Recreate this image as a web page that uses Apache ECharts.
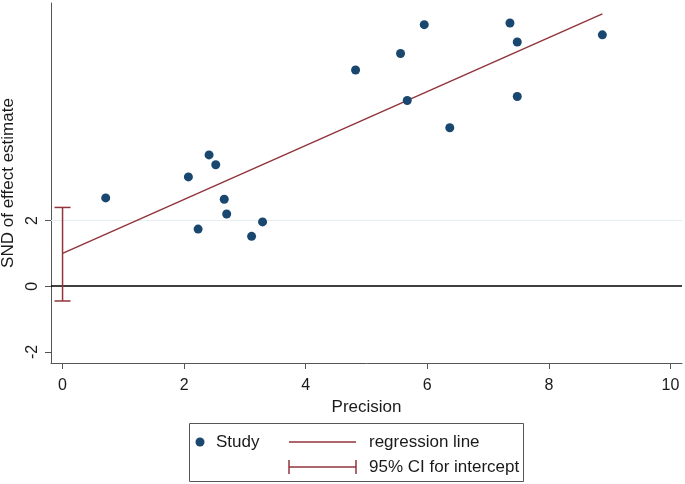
<!DOCTYPE html>
<html>
<head>
<meta charset="utf-8">
<script src="https://cdn.jsdelivr.net/npm/echarts@6/dist/echarts.min.js"></script>
<style>html,body{margin:0;padding:0;background:#fff}#c{width:685px;height:484px}</style>
</head>
<body>
<div id="c"></div>
<script>
// Study data: precision (x) and standard normal deviate (y)
const precision = [0.71, 2.07, 2.23, 2.41, 2.52, 2.66, 2.70, 3.11, 3.29, 4.82, 5.56, 5.67, 5.95, 6.37, 7.36, 7.48, 7.48, 8.88];
const snd       = [2.69, 3.33, 1.74, 4.00, 3.70, 2.65, 2.20, 1.52, 1.96, 6.59, 7.09, 5.66, 7.97, 4.83, 8.02, 7.44, 5.78, 7.66];
// Egger regression
const regIntercept = 1.0;
const regSlope = 0.822;
const ciLow = -0.45;
const ciHigh = 2.40;
// Ticks
const xTicks = [0, 2, 4, 6, 8, 10];
const yTicks = [-2, 0, 2];

const navy = '#1a476f', maroon = '#90353b', axisCol = '#555', txt = '#1a1a1a';
const font = '"Liberation Sans", Arial, sans-serif';

const points = precision.map((x, i) => [x, snd[i]]);
const xMaxData = Math.max(...precision);
const regLine = [[0, regIntercept], [xMaxData, regIntercept + regSlope * xMaxData]];

const chart = echarts.init(document.getElementById('c'));
chart.setOption({
  animation: false,
  textStyle: { fontFamily: font, color: txt },
  grid: { left: 51, right: 3, top: 3, bottom: 121, outerBoundsMode: 'none' },
  xAxis: {
    type: 'value', min: -0.19, max: 10.19,
    axisLine: { show: true, onZero: false, lineStyle: { color: axisCol, width: 1 } },
    axisTick: { show: true, customValues: xTicks, length: 6, lineStyle: { color: axisCol } },
    axisLabel: { customValues: xTicks, fontSize: 16, color: txt, margin: 15, fontFamily: font },
    splitLine: { show: false },
    name: 'Precision', nameLocation: 'middle', nameGap: 33,
    nameTextStyle: { fontSize: 17, color: txt, fontFamily: font }
  },
  yAxis: {
    type: 'value', min: -2.34, max: 8.63,
    axisLine: { show: true, onZero: false, lineStyle: { color: axisCol, width: 1 } },
    axisTick: { show: true, customValues: yTicks, length: 6, lineStyle: { color: axisCol } },
    axisLabel: { customValues: yTicks, fontSize: 16, color: txt, margin: 10, rotate: 90, fontFamily: font },
    splitLine: { show: false },
    name: 'SND of effect estimate', nameLocation: 'middle', nameGap: 26, nameRotate: 90,
    nameTextStyle: { fontSize: 17, color: txt, fontFamily: font }
  },
  series: [
    {
      type: 'line', data: [], z: 1, silent: true,
      markLine: {
        z: 1, silent: true, symbol: 'none', label: { show: false },
        data: [
          { yAxis: 2, lineStyle: { color: '#e6eef1', width: 1, type: 'solid' } },
          { yAxis: 0, lineStyle: { color: '#000', width: 1.5, type: 'solid' } }
        ]
      }
    },
    {
      type: 'line', data: regLine, showSymbol: false, symbol: 'none',
      lineStyle: { color: maroon, width: 1.5 }, z: 6
    },
    {
      type: 'custom', z: 6, clip: false,
      data: [[0, ciLow, ciHigh]],
      encode: { x: 0, y: [1, 2] },
      renderItem: function (params, api) {
        const x = api.value(0);
        const lo = api.coord([x, api.value(1)]);
        const hi = api.coord([x, api.value(2)]);
        const cap = 8;
        const st = { stroke: maroon, lineWidth: 1.5 };
        return {
          type: 'group', children: [
            { type: 'line', shape: { x1: lo[0], y1: lo[1], x2: hi[0], y2: hi[1] }, style: st },
            { type: 'line', shape: { x1: lo[0] - cap, y1: lo[1], x2: lo[0] + cap, y2: lo[1] }, style: st },
            { type: 'line', shape: { x1: hi[0] - cap, y1: hi[1], x2: hi[0] + cap, y2: hi[1] }, style: st }
          ]
        };
      }
    },
    {
      type: 'scatter', data: points, symbolSize: 9, itemStyle: { color: navy, opacity: 1 }, z: 7
    }
  ],
  graphic: [
    { type: 'rect', shape: { x: 189.5, y: 423.5, width: 334, height: 58 }, style: { fill: '#fff', stroke: axisCol, lineWidth: 1 } },
    { type: 'circle', shape: { cx: 200, cy: 442, r: 4.5 }, style: { fill: navy } },
    { type: 'text', x: 216, y: 442, style: { text: 'Study', font: '17px ' + font, fill: txt, verticalAlign: 'middle' } },
    { type: 'line', shape: { x1: 289, y1: 442, x2: 356, y2: 442 }, style: { stroke: maroon, lineWidth: 1.5 } },
    { type: 'text', x: 369, y: 442, style: { text: 'regression line', font: '17px ' + font, fill: txt, verticalAlign: 'middle' } },
    { type: 'line', shape: { x1: 289, y1: 467, x2: 356, y2: 467 }, style: { stroke: maroon, lineWidth: 1.5 } },
    { type: 'line', shape: { x1: 289, y1: 460, x2: 289, y2: 474 }, style: { stroke: maroon, lineWidth: 1.5 } },
    { type: 'line', shape: { x1: 356, y1: 460, x2: 356, y2: 474 }, style: { stroke: maroon, lineWidth: 1.5 } },
    { type: 'text', x: 369, y: 467, style: { text: '95% CI for intercept', font: '17px ' + font, fill: txt, verticalAlign: 'middle' } }
  ]
});
</script>
</body>
</html>
